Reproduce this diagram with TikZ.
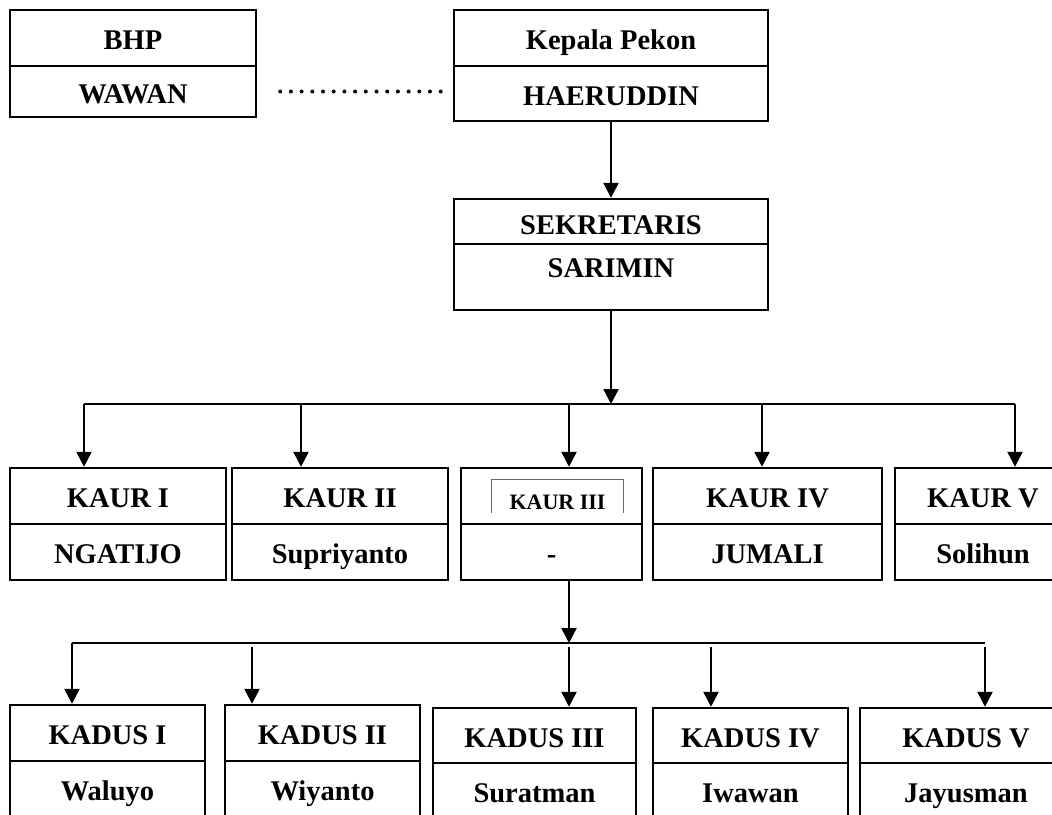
\documentclass[tikz,border=0pt]{standalone}
\usepackage{fontspec}
\setmainfont{Liberation Serif}
\usetikzlibrary{arrows.meta}

\begin{document}
\begin{tikzpicture}[x=1pt,y=-1pt,
    cell/.style={draw, line width=2.4pt, inner sep=0pt, text height=23pt, text depth=0pt,
                 font=\bfseries\fontsize{28.5}{32}\selectfont},
    arr/.style={line width=2.4pt, -{Triangle[length=15pt,width=15pt]}},
    bus/.style={line width=2.4pt},
    dotline/.style={line width=4pt, line cap=round, dash pattern=on 0pt off 10.7pt}]
\useasboundingbox (0,0) rectangle (1052,814);
\clip (0,0) rectangle (1052,814);
%\tikzstyle{cell}=[draw,thick]
\begin{scope}
    \node[cell, minimum width=246pt, minimum height=56pt] (bhp) at (133,38) {BHP};
    \node[cell, minimum width=246pt, minimum height=51pt] (wawan) at (133,91.5) {WAWAN};
    \node[cell, minimum width=314pt, minimum height=56pt] (kepala) at (611,38) {Kepala Pekon};
    \node[cell, minimum width=314pt, minimum height=55pt] (haeruddin) at (611,93.5) {HAERUDDIN};
    \node[cell, minimum width=314pt, minimum height=45pt, text height=26pt] (sekretaris) at (611,221.5) {SEKRETARIS};
    \node[cell, minimum width=314pt, minimum height=66pt, text depth=22pt] (sarimin) at (611,277) {SARIMIN};

    \path [dotline, shorten <=23pt, shorten >=11pt] (wawan.east) edge (wawan.east -| haeruddin.west);
    \path [arr] (haeruddin) edge (sekretaris);
\end{scope}
\begin{scope}
    \node[cell, minimum width=216pt, minimum height=56pt] (kaur1) at (118,496) {KAUR I};
    \node[cell, minimum width=216pt, minimum height=56pt] (ngatijo) at (118,552) {NGATIJO};
    \node[cell, minimum width=216pt, minimum height=56pt] (kaur2) at (340,496) {KAUR II};
    \node[cell, minimum width=216pt, minimum height=56pt] (supriyanto) at (340,552) {Supriyanto};
    \node[cell, minimum width=181pt, minimum height=56pt] (kaur3) at (551.5,496) {};
    \node[cell, minimum width=181pt, minimum height=56pt] (kosong) at (551.5,552) {-};
    \node[cell, minimum width=229pt, minimum height=56pt] (kaur4) at (767.5,496) {KAUR IV};
    \node[cell, minimum width=229pt, minimum height=56pt] (jumali) at (767.5,552) {JUMALI};
    \node[cell, minimum width=176pt, minimum height=56pt] (kaur5) at (983,496) {KAUR V};
    \node[cell, minimum width=176pt, minimum height=56pt] (solihun) at (983,552) {Solihun};

    % small frame round KAUR III
    \node[font=\bfseries\fontsize{22}{26}\selectfont, inner sep=0pt, minimum width=131pt,
          minimum height=33pt, text height=25pt, text depth=0pt] (kaur3in) at (557.5,496.5) {KAUR III};
    \draw[line width=1.2pt, black!60] (kaur3in.south west) |- (kaur3in.north east) -- (kaur3in.south east);

    \coordinate (kaurbus) at (611,404);
    \coordinate (d1) at (84,404);
    \coordinate (d2) at (301,404);
    \coordinate (d3) at (569,404);
    \coordinate (d4) at (762,404);
    \coordinate (d5) at (1015,404);

    \path [arr] (sarimin) edge (kaurbus);
    \path [bus] (d1) edge (d5);
    \path [arr] (d1) edge (d1 |- kaur1.north);
    \path [arr] (d2) edge (d2 |- kaur2.north);
    \path [arr] (d3) edge (d3 |- kaur3.north);
    \path [arr] (d4) edge (d4 |- kaur4.north);
    \path [arr] (d5) edge (d5 |- kaur5.north);
\end{scope}
\begin{scope}
    \node[cell, minimum width=195pt, minimum height=56pt] (kadus1) at (107.5,733) {KADUS I};
    \node[cell, minimum width=195pt, minimum height=56pt] (waluyo) at (107.5,789) {Waluyo};
    \node[cell, minimum width=195pt, minimum height=56pt] (kadus2) at (322.5,733) {KADUS II};
    \node[cell, minimum width=195pt, minimum height=56pt] (wiyanto) at (322.5,789) {Wiyanto};
    \node[cell, minimum width=203pt, minimum height=55pt] (kadus3) at (534.5,735.5) {KADUS III};
    \node[cell, minimum width=203pt, minimum height=56pt] (suratman) at (534.5,791) {Suratman};
    \node[cell, minimum width=195pt, minimum height=55pt] (kadus4) at (750.5,735.5) {KADUS IV};
    \node[cell, minimum width=195pt, minimum height=56pt] (iwawan) at (750.5,791) {Iwawan};
    \node[cell, minimum width=212pt, minimum height=55pt] (kadus5) at (966,735.5) {KADUS V};
    \node[cell, minimum width=212pt, minimum height=56pt] (jayusman) at (966,791) {Jayusman};

    \coordinate (kadusbus) at (569,643);
    \coordinate (e1) at (72,643);
    \coordinate (kadusbusR) at (985,643);
    \coordinate (e2) at (252,647);
    \coordinate (e3) at (569,647);
    \coordinate (e4) at (711,647);
    \coordinate (e5) at (985,647);

    \path [arr] (d3 |- kosong.south) edge (kadusbus);
    \path [bus] (e1) edge (kadusbusR);
    \path [arr] (e1) edge (e1 |- kadus1.north);
    \path [arr] (e2) edge (e2 |- kadus2.north);
    \path [arr] (e3) edge (e3 |- kadus3.north);
    \path [arr] (e4) edge (e4 |- kadus4.north);
    \path [arr] (e5) edge (e5 |- kadus5.north);
\end{scope}
\end{tikzpicture}
\end{document}
